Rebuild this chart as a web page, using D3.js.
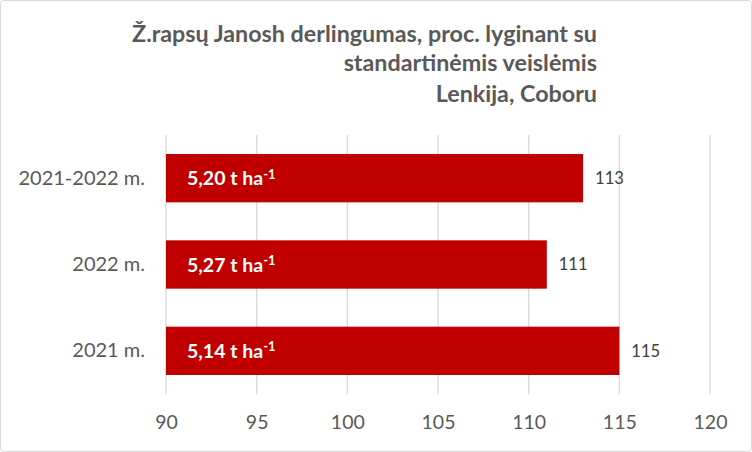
<!DOCTYPE html>
<html><head><meta charset="utf-8">
<script src="https://cdn.jsdelivr.net/npm/d3@7"></script>
<style>body{margin:0;background:#fff}svg{display:block}</style>
</head><body>
<svg id="c" width="752" height="452"></svg>
<script>
const categories = ["2021-2022 m.", "2022 m.", "2021 m."];
const values = [113, 111, 115];
const yieldLabels = ["5,20", "5,27", "5,14"];
const ticks = [90, 95, 100, 105, 110, 115, 120];
const titleLines = ["Ž.rapsų Janosh derlingumas, proc. lyginant su", "standartinėmis veislėmis", "Lenkija, Coboru"];

const svg = d3.select("#c");
const font = "Lato, 'Open Sans', sans-serif";
svg.append("rect").attr("x",0.5).attr("y",0.5).attr("width",751).attr("height",451)
  .attr("rx",3).attr("fill","#fff").attr("stroke","#d9d9d9");

const x = d3.scaleLinear().domain([90,120]).range([166,710]);
const y = d3.scaleBand().domain(categories).range([135,394]).paddingInner(0.44).paddingOuter(0.22);

// gridlines
svg.append("g").selectAll("line").data(ticks).join("line")
  .attr("x1",d=>x(d)).attr("x2",d=>x(d)).attr("y1",135).attr("y2",394)
  .attr("stroke","#d9d9d9").attr("stroke-width",1.3);

// axis
const ax = svg.append("g").attr("transform","translate(0,394)")
  .call(d3.axisBottom(x).tickValues(ticks).tickSize(0).tickPadding(21));
ax.select(".domain").remove();
ax.selectAll("text").attr("fill","#595959").attr("font-size",19.5).attr("font-family",font);

// category labels
const ay = svg.append("g").attr("transform","translate(166,0)")
  .call(d3.axisLeft(y).tickSize(0).tickPadding(21));
ay.select(".domain").remove();
ay.selectAll("text").attr("fill","#595959").attr("font-size",20).attr("font-family",font);

// bars
svg.append("g").selectAll("rect").data(categories).join("rect")
  .attr("x",x(90)).attr("y",d=>y(d)).attr("width",(d,i)=>x(values[i])-x(90))
  .attr("height",y.bandwidth()).attr("fill","#c00000");

// inside labels
const il = svg.append("g").selectAll("text").data(categories).join("text")
  .attr("x",x(90)+21).attr("y",d=>y(d)+y.bandwidth()/2).attr("dy","0.36em")
  .attr("fill","#fff").attr("font-weight","bold").attr("font-size",19.5).attr("font-family",font);
il.append("tspan").text((d,i)=>yieldLabels[i]+" t ha");
il.append("tspan").attr("dy","-0.5em").attr("font-size",13).text("-1");

// value labels
svg.append("g").selectAll("text").data(categories).join("text")
  .attr("x",(d,i)=>x(values[i])+12).attr("y",d=>y(d)+y.bandwidth()/2).attr("dy","0.36em")
  .attr("fill","#404040").attr("font-size",16.5).attr("font-family",font)
  .text((d,i)=>values[i]);

// title
svg.append("g").selectAll("text").data(titleLines).join("text")
  .attr("x",597).attr("y",(d,i)=>[42,71,102][i]).attr("text-anchor","end")
  .attr("fill","#595959").attr("font-weight","bold").attr("font-size",23.3).attr("font-family",font)
  .text(d=>d);
</script>
</body></html>
